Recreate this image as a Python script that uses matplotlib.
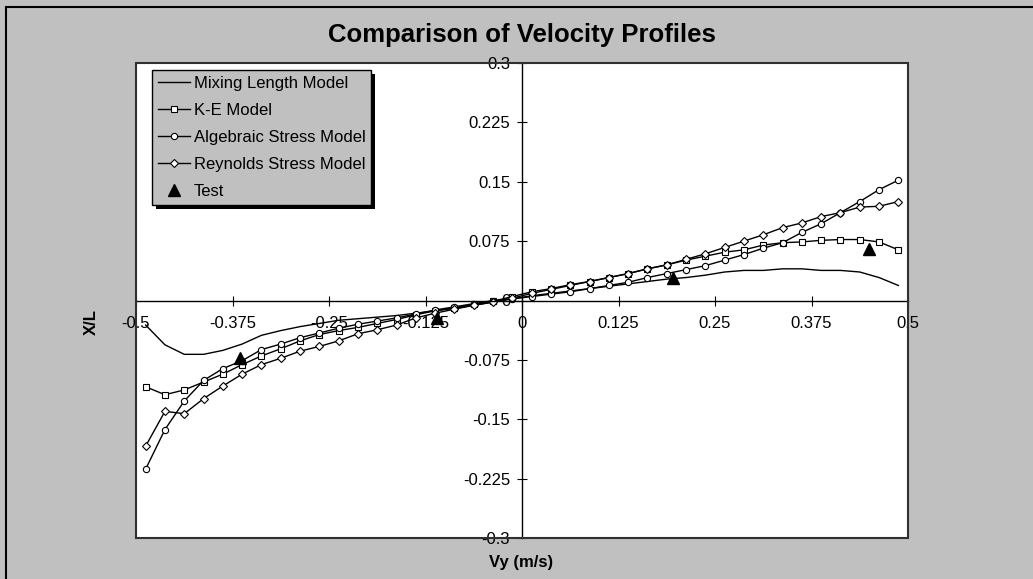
import numpy as np
import matplotlib
matplotlib.use("Agg")
import matplotlib.pyplot as plt
from matplotlib.patches import Rectangle
from matplotlib.ticker import FixedLocator, FuncFormatter

plt.rcParams['font.family'] = ['Liberation Sans', 'DejaVu Sans']

# Cross-section positions (m/s), cell centres across the jet
vy = np.arange(-0.4875, 0.5, 0.025)

mixing_length = [-0.031, -0.056, -0.068, -0.068, -0.063, -0.055, -0.044, -0.038, -0.033, -0.029,
                 -0.025, -0.023, -0.021, -0.019, -0.016, -0.013, -0.010, -0.006, -0.002, 0.002,
                 0.006, 0.009, 0.012, 0.015, 0.018, 0.021, 0.024, 0.027, 0.029, 0.032,
                 0.036, 0.038, 0.038, 0.040, 0.040, 0.038, 0.038, 0.036, 0.029, 0.019]
k_e = [-0.109, -0.119, -0.113, -0.103, -0.093, -0.081, -0.070, -0.061, -0.051, -0.043,
       -0.038, -0.034, -0.029, -0.024, -0.018, -0.013, -0.009, -0.005, -0.001, 0.005,
       0.011, 0.015, 0.020, 0.024, 0.029, 0.034, 0.040, 0.045, 0.051, 0.056,
       0.061, 0.064, 0.070, 0.073, 0.074, 0.076, 0.077, 0.077, 0.074, 0.064]
algebraic = [-0.213, -0.163, -0.127, -0.101, -0.086, -0.076, -0.062, -0.055, -0.047, -0.041,
             -0.035, -0.030, -0.026, -0.022, -0.017, -0.012, -0.008, -0.004, 0.000, 0.002,
             0.005, 0.008, 0.011, 0.015, 0.019, 0.023, 0.029, 0.034, 0.039, 0.044,
             0.051, 0.058, 0.066, 0.073, 0.086, 0.097, 0.111, 0.125, 0.140, 0.152]
reynolds = [-0.184, -0.140, -0.143, -0.124, -0.108, -0.093, -0.081, -0.073, -0.064, -0.058,
            -0.051, -0.042, -0.037, -0.031, -0.022, -0.016, -0.011, -0.006, -0.002, 0.003,
            0.009, 0.014, 0.019, 0.024, 0.029, 0.034, 0.040, 0.045, 0.052, 0.059,
            0.067, 0.075, 0.083, 0.092, 0.098, 0.106, 0.111, 0.118, 0.119, 0.125]

test_vy = [-0.365, -0.11, 0.195, 0.449]
test_xl = [-0.073, -0.022, 0.028, 0.065]

x_ticks = [-0.5, -0.375, -0.25, -0.125, 0, 0.125, 0.25, 0.375, 0.5]
y_ticks = [-0.3, -0.225, -0.15, -0.075, 0, 0.075, 0.15, 0.225, 0.3]

W, H = 1033, 579
fig = plt.figure(figsize=(W / 100, H / 100), dpi=100, facecolor='#c0c0c0')

# chart area border (top/left only visible)
fig.patches.append(Rectangle((6 / W, -0.1), 1.2, (H - 7) / H + 0.1, transform=fig.transFigure,
                             facecolor='none', edgecolor='black', lw=1.5))

ax = fig.add_axes([136 / W, (H - 538) / H, 772 / W, 475 / H])
ax.set_facecolor('white')

line_kw = dict(color='black', lw=1.0, markersize=4.5, markerfacecolor='white',
               markeredgecolor='black', markeredgewidth=0.8)
ax.plot(vy, mixing_length, color='black', lw=1.0, label='Mixing Length Model')
ax.plot(vy, k_e, marker='s', label='K-E Model', **line_kw)
ax.plot(vy, algebraic, marker='o', label='Algebraic Stress Model', **line_kw)
ax.plot(vy, reynolds, marker='D', label='Reynolds Stress Model',
        **{**line_kw, 'markersize': 4})
ax.plot(test_vy, test_xl, linestyle='none', marker='^', color='black', markersize=9,
        label='Test')

ax.set_xlim(-0.5, 0.5)
ax.set_ylim(-0.3, 0.3)

# axes cross at the origin
for s in ['top', 'right']:
    ax.spines[s].set_visible(False)
ax.spines['left'].set_position(('data', 0))
ax.spines['bottom'].set_position(('data', 0))
ax.spines['left'].set_linewidth(1.0)
ax.spines['bottom'].set_linewidth(1.0)
ax.add_patch(Rectangle((0, 0), 1, 1, transform=ax.transAxes, facecolor='none',
                       edgecolor='#303030', lw=1.5, clip_on=False, zorder=5))

fmt = FuncFormatter(lambda v, p: f"{v:g}")
ax.xaxis.set_major_locator(FixedLocator(x_ticks))
ax.yaxis.set_major_locator(FixedLocator(y_ticks))
ax.xaxis.set_major_formatter(fmt)
ax.yaxis.set_major_formatter(fmt)
ax.tick_params(direction='inout', length=7, width=0.8, labelsize=12, colors='black')
ax.tick_params(axis='x', pad=8)
ax.tick_params(axis='y', pad=5)

fig.text(522 / W, 1 - 35 / H, 'Comparison of Velocity Profiles', ha='center', va='center',
         fontsize=18.5, fontweight='bold')
fig.text(521 / W, 1 - 563 / H, 'Vy (m/s)', ha='center', va='center', fontsize=12,
         fontweight='bold')
fig.text(91 / W, 1 - 322 / H, 'X/L', ha='center', va='center', rotation=90, fontsize=12,
         fontweight='bold')

leg = ax.legend(loc='upper left', bbox_to_anchor=(152 / W, 1 - 70 / H),
                bbox_transform=fig.transFigure, fontsize=12, frameon=True, fancybox=False,
                facecolor='#c0c0c0', edgecolor='black', framealpha=1,
                handlelength=1.9, handletextpad=0.25, labelspacing=0.72,
                borderpad=0.35, borderaxespad=0)
leg.get_frame().set_linewidth(1.0)
leg.set_zorder(10)

# solid drop shadow behind the legend box
fig.canvas.draw()
bb = leg.get_window_extent()
ax.add_patch(Rectangle((bb.x0 + 4, bb.y0 - 4), bb.width, bb.height, transform=None,
                       facecolor='black', edgecolor='none', clip_on=False, zorder=9))

fig.savefig('out.png', dpi=100, facecolor=fig.get_facecolor())
